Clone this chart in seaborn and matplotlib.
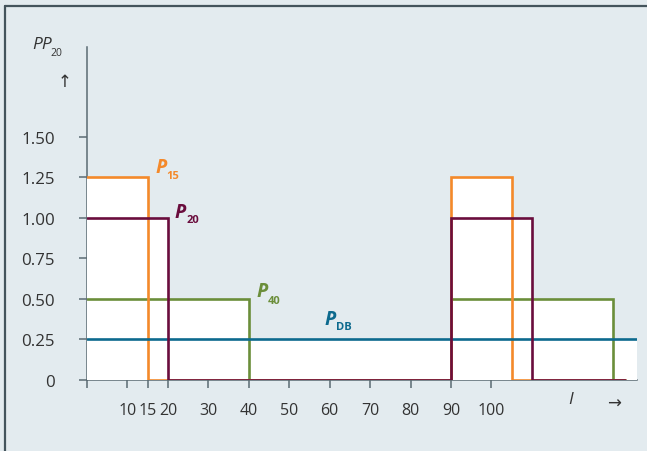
import numpy as np
import pandas as pd
import matplotlib
matplotlib.use("Agg")
import matplotlib.pyplot as plt
from matplotlib.lines import Line2D
import seaborn as sns

# ---- data ----
p15_x = [0, 15, 90, 105, 133]
p15_y = [1.25, 0, 1.25, 0, 0]
p20_x = [0, 20, 90, 110, 133]
p20_y = [1.0, 0, 1.0, 0, 0]
p40_x = [0, 40, 90, 130, 133]
p40_y = [0.5, 0, 0.5, 0, 0]
pdb_x = [0, 136]
pdb_y = [0.25, 0.25]
x_ticks = [0, 10, 15, 20, 30, 40, 50, 60, 70, 80, 90, 100]
x_ticklabels = ["", "10", "15", "20", "30", "40", "50", "60", "70", "80", "90", "100"]
y_ticks = [0, 0.25, 0.5, 0.75, 1.0, 1.25, 1.5]
y_ticklabels = ["0", "0.25", "0.50", "0.75", "1.00", "1.25", "1.50"]

BG = "#e3ebef"
C_ORANGE = "#f4892a"
C_PURPLE = "#6a0d3d"
C_GREEN = "#6b8e3a"
C_BLUE = "#0d6a8e"
C_AXIS = "#5b6a72"
C_TEXT = "#333333"

sns.set_style("white")
plt.rcParams["font.family"] = ["Open Sans", "DejaVu Sans"]

W, H = 647, 452
fig = plt.figure(figsize=(W / 100, H / 100), dpi=100, facecolor=BG)
ax = fig.add_axes([87 / W, 71 / H, 550 / W, 333 / H], facecolor=BG)

# white envelope under curves
series = [(p15_x, p15_y), (p20_x, p20_y), (p40_x, p40_y), (pdb_x, pdb_y)]
grid = np.array(sorted(set(sum([list(s[0]) for s in series], []))), dtype=float)
env = np.zeros_like(grid)
for sx, sy in series:
    sx = np.array(sx, float); sy = np.array(sy, float)
    idx = np.searchsorted(sx, grid, side="right") - 1
    vals = np.where((idx >= 0) & (grid <= sx[-1]), sy[np.clip(idx, 0, len(sy) - 1)], 0)
    env = np.maximum(env, vals)
ax.fill_between(grid, 0, env, step="post", color="white", zorder=1, lw=0)

lw = 1.9
for (sx, sy, c, z) in [(p40_x, p40_y, C_GREEN, 2), (p15_x, p15_y, C_ORANGE, 3),
                       (pdb_x, pdb_y, C_BLUE, 4), (p20_x, p20_y, C_PURPLE, 5)]:
    df = pd.DataFrame({"x": sx, "y": sy})
    sns.lineplot(data=df, x="x", y="y", ax=ax, color=c, lw=lw, zorder=z,
                 drawstyle="steps-post", solid_joinstyle="miter")

ax.set_xlim(0, 136)
ax.set_ylim(0, 2.055)
ax.set_xlabel("")
ax.set_ylabel("")
for s in ["top", "right"]:
    ax.spines[s].set_visible(False)
for s in ["left", "bottom"]:
    ax.spines[s].set_color(C_AXIS)
    ax.spines[s].set_linewidth(1.1)
    ax.spines[s].set_zorder(0.5)

ax.set_xticks(x_ticks)
ax.set_xticklabels(x_ticklabels)
ax.set_yticks(y_ticks)
ax.set_yticklabels(y_ticklabels)
ax.tick_params(axis="x", direction="out", length=6, width=1.1, color=C_AXIS,
               labelsize=11.5, labelcolor=C_TEXT, pad=10, bottom=True)
ax.tick_params(axis="y", direction="out", length=6, width=1.1, color=C_AXIS,
               labelsize=12.2, labelcolor=C_TEXT, pad=17, left=True)

def px(x, y):
    return ((x - 87) / 4.04, (381 - y) / 162.0)

def lab(main, sub, xp, yp, color, sx, sy):
    ax.text(*px(xp, yp), main, color=color, fontsize=14, fontweight="bold",
            fontstyle="italic", ha="center", va="center", clip_on=False)
    ax.text(*px(sx, sy), sub, color=color, fontsize=8, fontweight="bold",
            ha="left", va="center", clip_on=False)

lab("P", "15", 161, 168, C_ORANGE, 166, 177)
lab("P", "20", 180, 213, C_PURPLE, 186, 221)
lab("P", "40", 262, 292, C_GREEN, 268, 302)
lab("P", "DB", 330, 320, C_BLUE, 336, 328)

# axis titles
fig.text(32 / W, 1 - 45 / H, "PP", fontsize=12.5, fontstyle="italic", color=C_TEXT,
         ha="left", va="center")
fig.text(50 / W, 1 - 53 / H, "20", fontsize=7.5, color=C_TEXT, ha="left", va="center")
fig.text(65 / W, 1 - 82 / H, "↑", fontsize=12, color=C_TEXT, ha="center", va="center",
         family=["DejaVu Sans"])
fig.text(571 / W, 1 - 400 / H, "I", fontsize=12.5, fontstyle="italic", color=C_TEXT,
         ha="center", va="center")
fig.text(614 / W, 1 - 404 / H, "→", fontsize=12, color=C_TEXT, ha="center", va="center",
         family=["DejaVu Sans"])

# frame on top and left
fig.add_artist(Line2D([5 / W, 5 / W], [0, 1 - 7 / H], transform=fig.transFigure,
                      color="#44545c", lw=1.6))
fig.add_artist(Line2D([5 / W, 1.01], [1 - 7 / H, 1 - 7 / H], transform=fig.transFigure,
                      color="#44545c", lw=1.6))

fig.savefig("out.png", dpi=100, facecolor=BG)
